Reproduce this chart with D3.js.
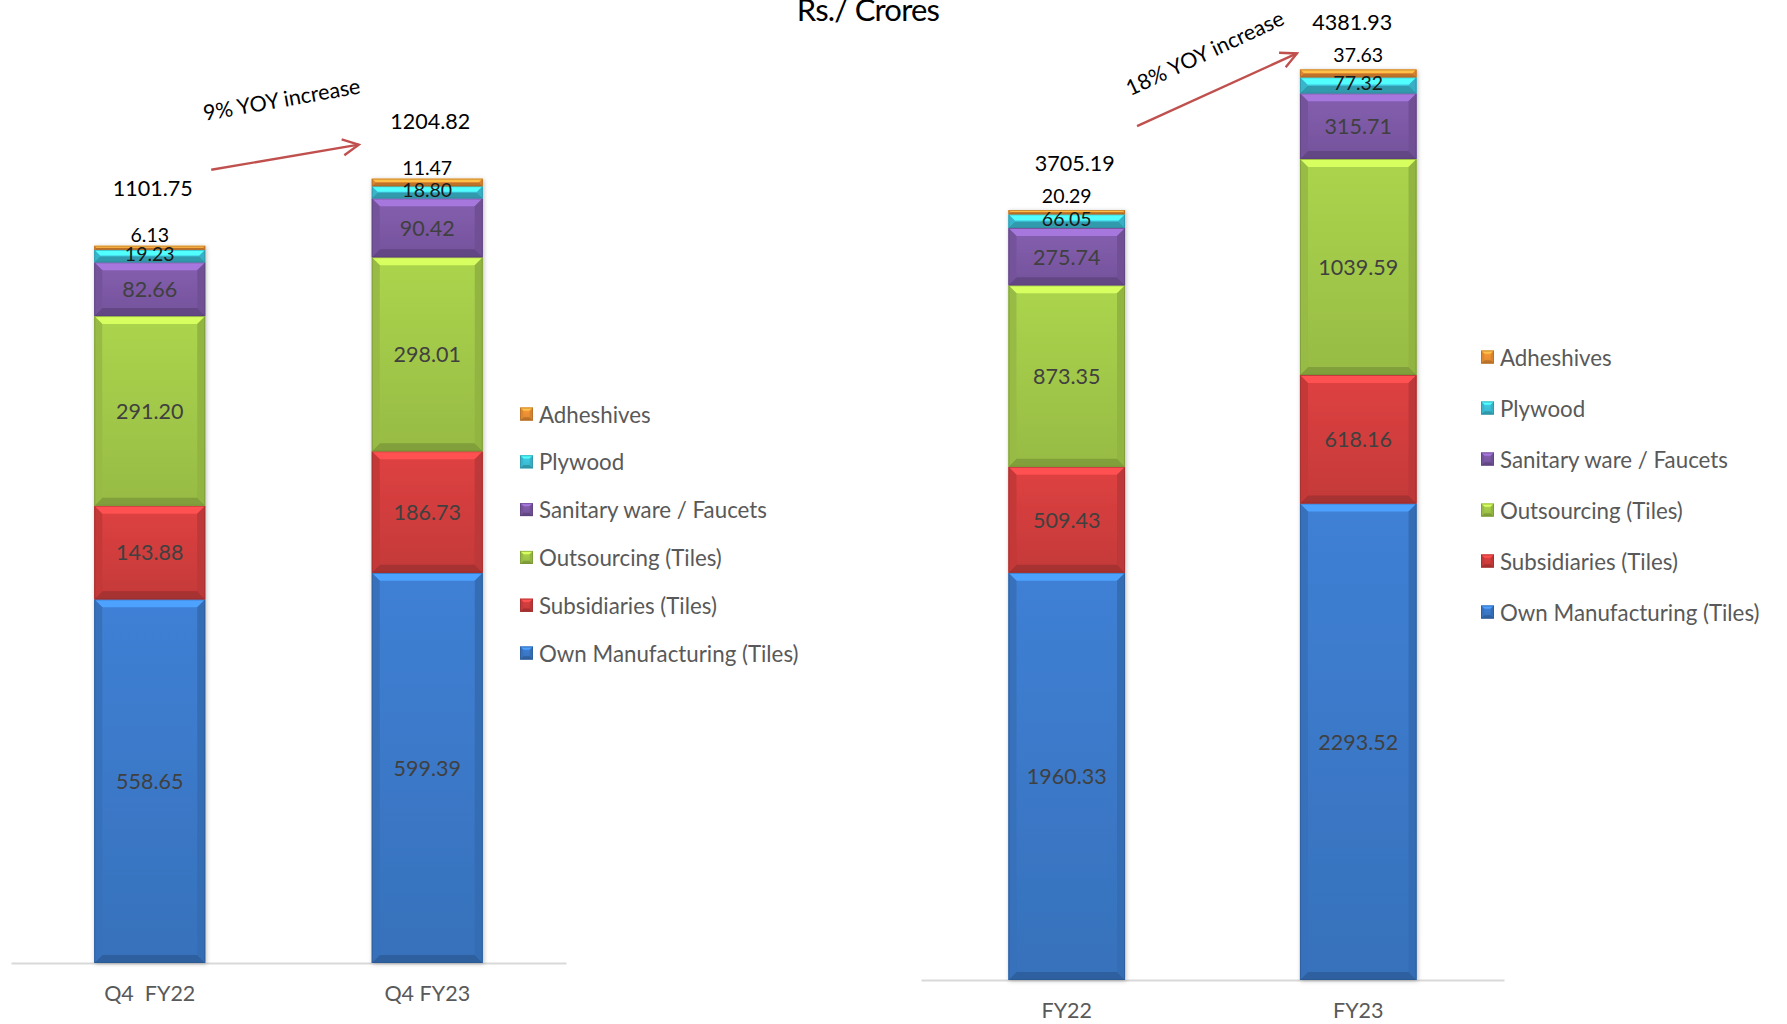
<!DOCTYPE html>
<html>
<head>
<meta charset="utf-8">
<script src="https://cdn.jsdelivr.net/npm/d3@7"></script>
<style>
  html, body { margin: 0; padding: 0; background: #ffffff; }
  svg { display: block; }
  text { font-family: Lato, "Noto Sans", sans-serif; }
</style>
</head>
<body>
<svg id="chart" width="1787" height="1024"></svg>
<script>
// ---------------- DATA ----------------
const seriesNames = ["Own Manufacturing (Tiles)", "Subsidiaries (Tiles)", "Outsourcing (Tiles)", "Sanitary ware / Faucets", "Plywood", "Adheshives"];
const legendOrder = ["Adheshives", "Plywood", "Sanitary ware / Faucets", "Outsourcing (Tiles)", "Subsidiaries (Tiles)", "Own Manufacturing (Tiles)"];

const quarterCategories = ["Q4  FY22", "Q4 FY23"];
const quarterOwnMfg      = [558.65, 599.39];
const quarterSubsidiary  = [143.88, 186.73];
const quarterOutsourcing = [291.20, 298.01];
const quarterSanitary    = [82.66, 90.42];
const quarterPlywood     = [19.23, 18.80];
const quarterAdhesives   = [6.13, 11.47];
const quarterTotals      = [1101.75, 1204.82];
const quarterGrowthLabel = "9% YOY increase";

const yearCategories = ["FY22", "FY23"];
const yearOwnMfg      = [1960.33, 2293.52];
const yearSubsidiary  = [509.43, 618.16];
const yearOutsourcing = [873.35, 1039.59];
const yearSanitary    = [275.74, 315.71];
const yearPlywood     = [66.05, 77.32];
const yearAdhesives   = [20.29, 37.63];
const yearTotals      = [3705.19, 4381.93];
const yearGrowthLabel = "18% YOY increase";

const titleText = "Rs./ Crores";

// ---------------- STYLE ----------------
const palette = {
  "Own Manufacturing (Tiles)": "#3c7bcc",
  "Subsidiaries (Tiles)": "#d63e3e",
  "Outsourcing (Tiles)": "#a5cc4a",
  "Sanitary ware / Faucets": "#7f5ba9",
  "Plywood": "#3ec6de",
  "Adheshives": "#f29436"
};
const arrowColor = "#c0504d";

const svg = d3.select("#chart");
const defs = svg.append("defs");

const shadow = defs.append("filter").attr("id", "shadow")
  .attr("x", "-20%").attr("y", "-5%").attr("width", "140%").attr("height", "110%");
shadow.append("feDropShadow").attr("dx", 1).attr("dy", 1).attr("stdDeviation", 2)
  .attr("flood-color", "#000").attr("flood-opacity", 0.25);

seriesNames.forEach((s, i) => {
  const c = d3.color(palette[s]);
  const g = defs.append("linearGradient").attr("id", "face" + i)
    .attr("x1", 0).attr("y1", 0).attr("x2", 0).attr("y2", 1);
  g.append("stop").attr("offset", "0%").attr("stop-color", c.brighter(0.12).formatHex());
  g.append("stop").attr("offset", "100%").attr("stop-color", c.darker(0.25).formatHex());
});

// bevelled block
function bevelBlock(g, x0, y0, w, h, si, bmax) {
  const c = d3.color(palette[seriesNames[si]]);
  const b = Math.max(0.5, Math.min(bmax, h / 2.2, w / 4));
  const x1 = x0 + w, y1 = y0 + h;
  const grp = g.append("g");
  grp.append("rect").attr("x", x0).attr("y", y0).attr("width", w).attr("height", h)
    .attr("fill", `url(#face${si})`);
  const poly = (pts, fill) => grp.append("polygon")
    .attr("points", pts.map(p => p.join(",")).join(" ")).attr("fill", fill);
  poly([[x0, y0], [x1, y0], [x1 - b, y0 + b], [x0 + b, y0 + b]], c.brighter(0.75).formatHex());
  poly([[x0, y1], [x1, y1], [x1 - b, y1 - b], [x0 + b, y1 - b]], c.darker(0.7).formatHex());
  poly([[x0, y0], [x0 + b, y0 + b], [x0 + b, y1 - b], [x0, y1]], c.darker(0.25).formatHex());
  poly([[x1, y0], [x1 - b, y0 + b], [x1 - b, y1 - b], [x1, y1]], c.darker(0.35).formatHex());
  grp.append("rect").attr("x", x0 + 0.5).attr("y", y0 + 0.5).attr("width", Math.max(0, w - 1)).attr("height", Math.max(0, h - 1))
    .attr("fill", "none").attr("stroke", c.darker(1.0).formatHex()).attr("stroke-opacity", 0.6).attr("stroke-width", 1);
}

// arrow marker
defs.append("marker").attr("id", "arrowHead")
  .attr("viewBox", "0 0 20 20").attr("refX", 18).attr("refY", 10)
  .attr("markerWidth", 20).attr("markerHeight", 20).attr("markerUnits", "userSpaceOnUse")
  .attr("orient", "auto")
  .append("path").attr("d", "M2,2 L18,10 L2,18").attr("fill", "none")
  .attr("stroke", arrowColor).attr("stroke-width", 2.4);

// ---------------- CHART BUILDER ----------------
function drawPanel(cfg) {
  const rows = cfg.categories.map((c, i) => ({
    cat: c,
    "Own Manufacturing (Tiles)": cfg.own[i],
    "Subsidiaries (Tiles)": cfg.sub[i],
    "Outsourcing (Tiles)": cfg.out[i],
    "Sanitary ware / Faucets": cfg.san[i],
    "Plywood": cfg.ply[i],
    "Adheshives": cfg.adh[i]
  }));
  const stacked = d3.stack().keys(seriesNames)(rows);

  const x = d3.scaleBand().domain(cfg.categories).range(cfg.xRange)
    .paddingInner(0.6).paddingOuter(0.3);
  const y = d3.scaleLinear().domain(cfg.yDomain).range(cfg.yRange);

  const g = svg.append("g");

  // axis line
  const axis = g.append("g").attr("transform", `translate(0,${y(0)})`)
    .call(d3.axisBottom(x).tickSize(0).tickPadding(0));
  axis.select(".domain").attr("stroke", "#d9d9d9").attr("stroke-width", 2);
  axis.selectAll(".tick text")
    .attr("y", cfg.tickDy)
    .attr("dy", 0)
    .style("white-space", "pre")
    .attr("font-family", "Lato, sans-serif")
    .attr("font-size", 21.5).attr("fill", "#595959");

  // bars
  const barsG = g.append("g").attr("filter", "url(#shadow)");
  stacked.forEach((layer, si) => {
    layer.forEach(d => {
      const x0 = x(d.data.cat), w = x.bandwidth();
      const yTop = y(d[1]), yBot = y(d[0]);
      bevelBlock(barsG, x0, yTop, w, yBot - yTop, si, 8);
    });
  });

  // segment labels
  stacked.forEach((layer, si) => {
    const name = seriesNames[si];
    layer.forEach(d => {
      const cx = x(d.data.cat) + x.bandwidth() / 2;
      const val = d[1] - d[0];
      let yy, size, fill;
      if (name === "Adheshives") {
        yy = y(d[1]) - cfg.adhOffset; size = 19.5; fill = "#000000";
      } else if (name === "Plywood") {
        yy = (y(d[0]) + y(d[1])) / 2 - 3; size = 19.5; fill = "#1a1a1a";
      } else {
        yy = (y(d[0]) + y(d[1])) / 2; size = 21.5; fill = "#404040";
      }
      g.append("text").attr("x", cx).attr("y", yy)
        .attr("text-anchor", "middle").attr("dominant-baseline", "central")
        .attr("font-size", size).attr("fill", fill)
        .text(d3.format(".2f")(val));
    });
  });

  // totals
  cfg.totals.forEach((t, i) => {
    g.append("text")
      .attr("x", x(cfg.categories[i]) + x.bandwidth() / 2 + cfg.totalDx[i])
      .attr("y", y(t) - cfg.totalOffset)
      .attr("text-anchor", "middle").attr("dominant-baseline", "central")
      .attr("font-size", 21.5).attr("fill", "#000")
      .text(d3.format(".2f")(t));
  });

  // arrow annotation
  const a = cfg.arrow;
  const sx = x(cfg.categories[0]) + x.bandwidth() + a.sdx, sy = y(cfg.totals[0]) + a.sdy;
  const ex = x(cfg.categories[1]) + a.edx, ey = y(cfg.totals[1]) + a.edy;
  g.append("line").attr("x1", sx).attr("y1", sy).attr("x2", ex).attr("y2", ey)
    .attr("stroke", arrowColor).attr("stroke-width", 2.4)
    .attr("marker-end", "url(#arrowHead)");
  g.append("text")
    .attr("transform", `translate(${a.tx},${a.ty}) rotate(${a.rot})`)
    .attr("text-anchor", "middle").attr("font-size", 21.5).attr("fill", "#000")
    .text(cfg.growth);

  // legend
  const lg = g.append("g");
  legendOrder.forEach((name, i) => {
    const si = seriesNames.indexOf(name);
    const cy = cfg.legend.y0 + i * cfg.legend.dy;
    bevelBlock(lg, cfg.legend.x, cy - 6.5, 13, 13, si, 3.5);
    lg.append("text").attr("x", cfg.legend.x + 19).attr("y", cy)
      .attr("dominant-baseline", "central")
      .attr("font-size", 22.3).attr("fill", "#595959")
      .text(name);
  });
}

drawPanel({
  categories: quarterCategories,
  own: quarterOwnMfg, sub: quarterSubsidiary, out: quarterOutsourcing,
  san: quarterSanitary, ply: quarterPlywood, adh: quarterAdhesives,
  totals: quarterTotals, growth: quarterGrowthLabel,
  xRange: [11, 566], yDomain: [0, 1200], yRange: [963, 963 - 1200 * 0.651],
  tickDy: 38, adhOffset: 11, totalOffset: 58, totalDx: [3, 3],
  arrow: { sdx: 6, sdy: -76, edx: -13, edy: -34, tx: 283, ty: 107, rot: -10 },
  legend: { x: 520, y0: 414, dy: 47.8 }
});

drawPanel({
  categories: yearCategories,
  own: yearOwnMfg, sub: yearSubsidiary, out: yearOutsourcing,
  san: yearSanitary, ply: yearPlywood, adh: yearAdhesives,
  totals: yearTotals, growth: yearGrowthLabel,
  xRange: [921, 1504], yDomain: [0, 4000], yRange: [980, 980 - 4000 * 0.2078],
  tickDy: 38, adhOffset: 15, totalOffset: 47, totalDx: [8, -6],
  arrow: { sdx: 12, sdy: -84, edx: -3, edy: -16, tx: 1208, ty: 60, rot: -25 },
  legend: { x: 1481, y0: 357, dy: 51 }
});

// title
svg.append("text").attr("x", 868).attr("y", 21)
  .attr("text-anchor", "middle")
  .attr("font-family", "'Liberation Sans', Arial, sans-serif")
  .attr("font-size", 31).attr("letter-spacing", -0.8).attr("fill", "#000")
  .text(titleText);
</script>
</body>
</html>
